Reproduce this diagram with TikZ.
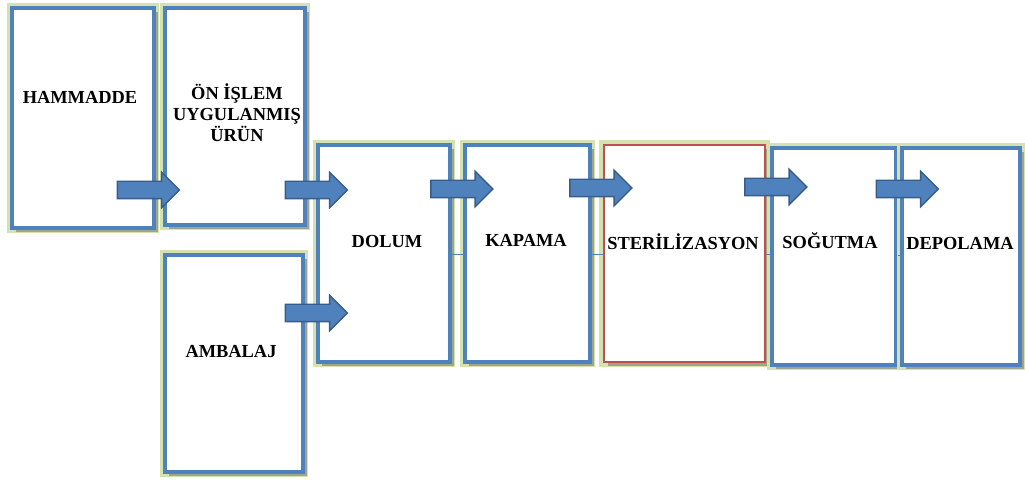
\documentclass[tikz,border=0pt]{standalone}
\usepackage{fontspec}
\setmainfont{Liberation Serif}
\usetikzlibrary{shapes.arrows,shadows}

\definecolor{boxblue}{HTML}{4F81BD}
\definecolor{arrowline}{HTML}{385D8A}
\definecolor{glowgreen}{HTML}{D3E2AE}
\definecolor{boxred}{HTML}{C0504D}

\tikzset{
    stepbox/.style={draw=boxblue, line width=2pt, fill=white, inner sep=0pt,
        preaction={draw=glowgreen, line width=5pt},
        drop shadow={shadow xshift=2.2pt, shadow yshift=-2.2pt, opacity=0.55, fill=black!55}},
    redbox/.style={stepbox, draw=boxred, line width=1.2pt},
    boxtext/.style={font=\bfseries\fontsize{9.2}{10.6}\selectfont, align=center, inner sep=0pt},
    flowarrow/.style={single arrow, draw=arrowline, fill=boxblue, line width=0.7pt,
        inner xsep=0pt, inner ysep=4pt, minimum height=31pt, minimum width=17pt,
        single arrow head extend=4.5pt},
    thinlink/.style={draw=boxblue, line width=0.5pt}
}

\begin{document}
\begin{tikzpicture}[x=0.5pt, y=-0.5pt]
    \useasboundingbox (0,0) rectangle (1025,480);

    % boxes
    \node[stepbox, minimum width=71pt, minimum height=110pt]   (hammadde) at (83,118)    {};
    \node[stepbox, minimum width=70pt, minimum height=108.5pt] (onislem)  at (235,116.5) {};
    \node[stepbox, minimum width=69pt, minimum height=108.5pt] (ambalaj)  at (234,363.5) {};
    \node[stepbox, minimum width=66pt, minimum height=108.5pt] (dolum)    at (384,253.5) {};
    \node[stepbox, minimum width=62.5pt, minimum height=108.5pt] (kapama) at (527.5,253.5) {};
    \node[redbox,  minimum width=80.5pt, minimum height=108.5pt] (steril) at (684.5,253.5) {};
    \node[stepbox, minimum width=62pt, minimum height=108.5pt] (sogutma)  at (834,256.5) {};
    \node[stepbox, minimum width=59pt, minimum height=108.5pt] (depolama) at (961,256.5) {};

    % labels
    \node[boxtext] (hammaddelbl) at (80,97)   {HAMMADDE};
    \node[boxtext] (onislemlbl)  at (237,113) {ÖN İŞLEM\\UYGULANMIŞ\\ÜRÜN};
    \node[boxtext] (ambalajlbl)  at (231,352) {AMBALAJ};
    \node[boxtext] (dolumlbl)    at (387,242) {DOLUM};
    \node[boxtext] (kapamalbl)   at (526,240) {KAPAMA};
    \node[boxtext] (sterillbl)   at (683,242) {STERİLİZASYON};
    \node[boxtext] (sogutmalbl)  at (830,241) {SOĞUTMA};
    \node[boxtext] (depolamalbl) at (960,244) {DEPOLAMA};

    % thin links
    \draw[thinlink] (dolum.east |- 0,255)   -- (kapama.west |- 0,255);
    \draw[thinlink] (kapama.east |- 0,255)  -- (steril.west |- 0,255);
    \draw[thinlink] (steril.east |- 0,255)  -- (sogutma.west |- 0,255);
    \draw[thinlink] (sogutma.east |- 0,256) -- (depolama.west |- 0,256);

    % block arrows
    \foreach \tail/\tip/\y/\name in {113/175/190/ha, 282/342/190/od, 282/342/313/ad,
                                     427/488/189/dk, 566/627/188/ks, 741/802/187/ss,
                                     873/933/189/sd} {
        \node[flowarrow] (arr\name) at ({(\tail+\tip)/2},\y) {};
    }
\end{tikzpicture}
\end{document}
